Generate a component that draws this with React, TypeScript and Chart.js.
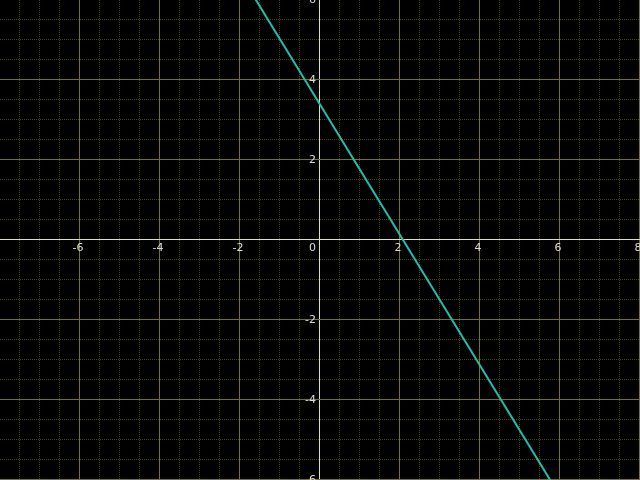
import React, { useEffect, useRef } from "react";
import { Chart, registerables } from "chart.js";

Chart.register(...registerables);

// Line
const lineX = [-2, 6];
const lineY = [6.65, -6.4];

// Axis ranges and labels
const xRange = [-8, 8];
const yRange = [-6, 6];
const xTickLabels = [-6, -4, -2, 0, 2, 4, 6, 8];
const yTickLabels = [6, 4, 2, -2, -4, -6];
const gridStep = 0.5;
const majorStep = 2;

const gridPlugin = {
  id: "mathGrid",
  beforeDatasetsDraw(chart: any) {
    const ctx = chart.ctx;
    const xs = chart.scales.x;
    const ys = chart.scales.y;
    const { left, right, top, bottom } = chart.chartArea;
    ctx.save();
    ctx.lineWidth = 1;
    const kind = (v: number) =>
      Math.abs(v) < 1e-9 ? 2 : Math.abs(v / majorStep - Math.round(v / majorStep)) < 1e-9 ? 1 : 0;
    const styles = [
      { color: "#484800", dash: [1, 1] },
      { color: "#7a7800", dash: [] as number[] },
      { color: "#e0e0b4", dash: [] as number[] },
    ];
    const drawLine = (x1: number, y1: number, x2: number, y2: number, k: number) => {
      ctx.strokeStyle = styles[k].color;
      ctx.setLineDash(styles[k].dash);
      ctx.beginPath();
      ctx.moveTo(x1, y1);
      ctx.lineTo(x2, y2);
      ctx.stroke();
    };
    const order = (lo: number, hi: number) => {
      const vals: number[] = [];
      for (let v = lo; v <= hi + 1e-9; v += gridStep) vals.push(Math.round(v * 100) / 100);
      return vals.sort((a, b) => kind(a) - kind(b));
    };
    for (const v of order(xRange[0], xRange[1])) {
      const px = Math.round(xs.getPixelForValue(v)) - 0.5;
      drawLine(px, top, px, bottom, kind(v));
    }
    for (const v of order(yRange[0], yRange[1])) {
      const py = Math.round(ys.getPixelForValue(v)) - 0.5;
      drawLine(left, py, right, py, kind(v));
    }
    ctx.setLineDash([]);
    ctx.fillStyle = "#dcdcdc";
    ctx.font = "11px 'DejaVu Sans', sans-serif";
    const x0 = xs.getPixelForValue(0);
    const y0 = ys.getPixelForValue(0);
    ctx.textBaseline = "middle";
    for (const v of xTickLabels) {
      const px = xs.getPixelForValue(v);
      if (v === 0) {
        ctx.textAlign = "right";
        ctx.fillText(String(v), x0 - 4, y0 + 8);
      } else {
        ctx.textAlign = "center";
        ctx.fillText(String(v), px - 2, y0 + 8);
      }
    }
    ctx.textAlign = "right";
    for (const v of yTickLabels) {
      const py = ys.getPixelForValue(v);
      ctx.fillText(String(v), x0 - 4, py);
    }
    ctx.restore();
  },
};

export default function App() {
  const canvasRef = useRef<HTMLCanvasElement | null>(null);
  useEffect(() => {
    document.body.style.margin = "0";
    document.body.style.background = "#000";
    const canvas = canvasRef.current!;
    const points = lineX.map((x, i) => ({ x, y: lineY[i] }));
    const chart = new Chart(canvas, {
      type: "scatter",
      data: {
        datasets: [
          {
            data: points,
            showLine: true,
            borderColor: "#22bdb2",
            borderWidth: 2,
            pointRadius: 0,
            fill: false,
          },
        ],
      },
      options: {
        animation: false,
        responsive: false,
        devicePixelRatio: 1,
        layout: { padding: 0 },
        plugins: { legend: { display: false }, tooltip: { enabled: false } },
        scales: {
          x: { type: "linear", min: xRange[0], max: xRange[1], display: false },
          y: { type: "linear", min: yRange[0], max: yRange[1], display: false },
        },
      },
      plugins: [gridPlugin],
    });
    return () => chart.destroy();
  }, []);
  return (
    <div style={{ position: "fixed", left: 0, top: 0, width: 640, height: 480, background: "#000" }}>
      <canvas ref={canvasRef} width={640} height={480} style={{ display: "block" }} />
    </div>
  );
}
